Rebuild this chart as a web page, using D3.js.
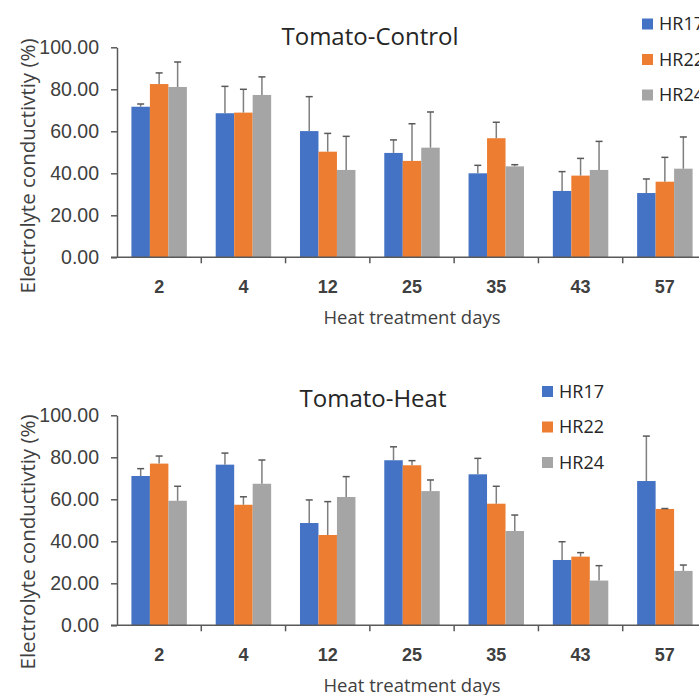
<!DOCTYPE html>
<html>
<head>
<meta charset="utf-8">
<script src="https://cdn.jsdelivr.net/npm/d3@7"></script>
<style>
  body { margin: 0; background: #fff; }
  svg { display: block; font-family: "Open Sans", sans-serif; }
  .tick text { fill: #404040; }
</style>
</head>
<body>
<svg id="chart" width="699" height="695"></svg>
<script>
// categories + series
const days = ['2', '4', '12', '25', '35', '43', '57'];
const lines = ['HR17', 'HR22', 'HR24'];
const colors = ['#4472C4', '#ED7D31', '#A5A5A5'];
const yTicks = [0, 20, 40, 60, 80, 100];

// Tomato-Control means / error (upper only)
const controlHR17 = [71.7, 68.6, 60.1, 49.7, 40.0, 31.6, 30.6];
const controlHR22 = [82.5, 68.9, 50.3, 45.9, 56.7, 38.9, 36.0];
const controlHR24 = [81.1, 77.3, 41.6, 52.2, 43.3, 41.6, 42.2];
const controlErrHR17 = [1.3, 12.8, 16.4, 6.2, 3.8, 9.2, 6.7];
const controlErrHR22 = [5.3, 11.1, 8.7, 17.7, 7.6, 8.2, 11.6];
const controlErrHR24 = [11.9, 8.6, 16.0, 17.0, 0.8, 13.6, 15.1];

// Tomato-Heat
const heatHR17 = [71.1, 76.5, 48.7, 78.6, 71.9, 31.1, 68.7];
const heatHR22 = [77.0, 57.4, 43.0, 76.2, 57.9, 32.7, 55.4];
const heatHR24 = [59.3, 67.4, 61.1, 63.9, 44.9, 21.3, 25.9];
const heatErrHR17 = [3.5, 5.5, 11.0, 6.4, 7.6, 8.7, 21.4];
const heatErrHR22 = [3.6, 3.8, 15.9, 2.2, 8.3, 1.9, 0.2];
const heatErrHR24 = [6.9, 11.3, 9.7, 5.3, 7.6, 7.1, 2.8];

const panels = [
  {
    title: 'Tomato-Control', titleX: 370, titleY: 45,
    top: 47.3, labelY: 166,
    legend: {x: 642, y: 24},
    means: [controlHR17, controlHR22, controlHR24],
    errs: [controlErrHR17, controlErrHR22, controlErrHR24],
  },
  {
    title: 'Tomato-Heat', titleX: 373, titleY: 407,
    top: 415.3, labelY: 542,
    legend: {x: 542, y: 391.5},
    means: [heatHR17, heatHR22, heatHR24],
    errs: [heatErrHR17, heatErrHR22, heatErrHR24],
  },
];

const svg = d3.select('#chart');
const left = 117, right = 707, plotH = 210;
const axisColor = '#595959';

const x0 = d3.scaleBand().domain(days).range([left, right]);
const x1 = d3.scaleBand().domain(lines).range([0, x0.bandwidth()])
  .paddingInner(0).paddingOuter(0.78);

panels.forEach((p) => {
  const bottom = p.top + plotH;
  const y = d3.scaleLinear().domain([0, 100]).range([bottom, p.top]);
  const g = svg.append('g');

  const rows = [];
  days.forEach((d, i) => lines.forEach((s, j) => {
    rows.push({day: d, line: s, j, v: p.means[j][i], e: p.errs[j][i]});
  }));

  // bars
  g.selectAll('rect.bar').data(rows).enter().append('rect')
    .attr('class', 'bar')
    .attr('x', d => x0(d.day) + x1(d.line))
    .attr('y', d => y(d.v))
    .attr('width', x1.bandwidth())
    .attr('height', d => bottom - y(d.v))
    .attr('fill', d => colors[d.j]);

  // error bars (upper)
  const eb = g.selectAll('g.err').data(rows).enter().append('g').attr('class', 'err')
    .attr('stroke', '#7f7f7f').attr('stroke-width', 1.5);
  eb.append('line')
    .attr('x1', d => x0(d.day) + x1(d.line) + x1.bandwidth() / 2)
    .attr('x2', d => x0(d.day) + x1(d.line) + x1.bandwidth() / 2)
    .attr('y1', d => y(d.v)).attr('y2', d => y(d.v + d.e));
  eb.append('line')
    .attr('x1', d => x0(d.day) + x1(d.line) + x1.bandwidth() / 2 - 3.5)
    .attr('x2', d => x0(d.day) + x1(d.line) + x1.bandwidth() / 2 + 3.5)
    .attr('y1', d => y(d.v + d.e)).attr('y2', d => y(d.v + d.e))
    .attr('stroke', '#595959');

  // y axis
  const yAxis = g.append('g').attr('transform', `translate(${left},0)`)
    .call(d3.axisLeft(y).tickValues(yTicks).tickFormat(d3.format('.2f'))
      .tickSize(6).tickSizeOuter(0).tickPadding(12));
  yAxis.selectAll('path, line').attr('stroke', axisColor).attr('stroke-width', 1.5);
  yAxis.selectAll('text').style('font-size', '19.5px');

  // x axis: labels at band centres, ticks on band edges
  const xAxis = g.append('g').attr('transform', `translate(0,${bottom})`)
    .call(d3.axisBottom(x0).tickSize(0).tickPadding(23));
  xAxis.select('.domain').attr('stroke', axisColor).attr('stroke-width', 1.5)
    .attr('d', `M${left - 6},0H${right}`);
  xAxis.selectAll('text').style('font-size', '18px').style('font-weight', 'bold')
    .attr('fill', '#262626');
  xAxis.selectAll('line.edge').data(days.slice(1)).enter().append('line')
    .attr('class', 'edge')
    .attr('x1', d => x0(d)).attr('x2', d => x0(d))
    .attr('y1', 0).attr('y2', 6)
    .attr('stroke', axisColor).attr('stroke-width', 1.5);

  // titles
  g.append('text').attr('x', p.titleX).attr('y', p.titleY)
    .attr('text-anchor', 'middle').style('font-size', '24px').attr('fill', '#262626')
    .text(p.title);
  g.append('text').attr('x', (left + right) / 2).attr('y', bottom + 67)
    .attr('text-anchor', 'middle').style('font-size', '18.5px').attr('fill', '#404040')
    .text('Heat treatment days');
  g.append('text')
    .attr('transform', `translate(27,${p.labelY}) rotate(-90)`)
    .attr('text-anchor', 'middle').attr('dominant-baseline', 'central')
    .style('font-size', '20.5px').attr('fill', '#404040')
    .text('Electrolyte conductivtiy (%)');

  // legend
  const lg = g.selectAll('g.legend').data(lines).enter().append('g')
    .attr('class', 'legend')
    .attr('transform', (d, i) => `translate(${p.legend.x},${p.legend.y + i * 35.5})`);
  lg.append('rect').attr('x', 0).attr('y', -5.5).attr('width', 11).attr('height', 11)
    .attr('fill', (d, i) => colors[i]);
  lg.append('text').attr('x', 17).attr('dy', '0.35em')
    .style('font-size', '18px').attr('fill', '#262626').text(d => d);
});
</script>
</body>
</html>
